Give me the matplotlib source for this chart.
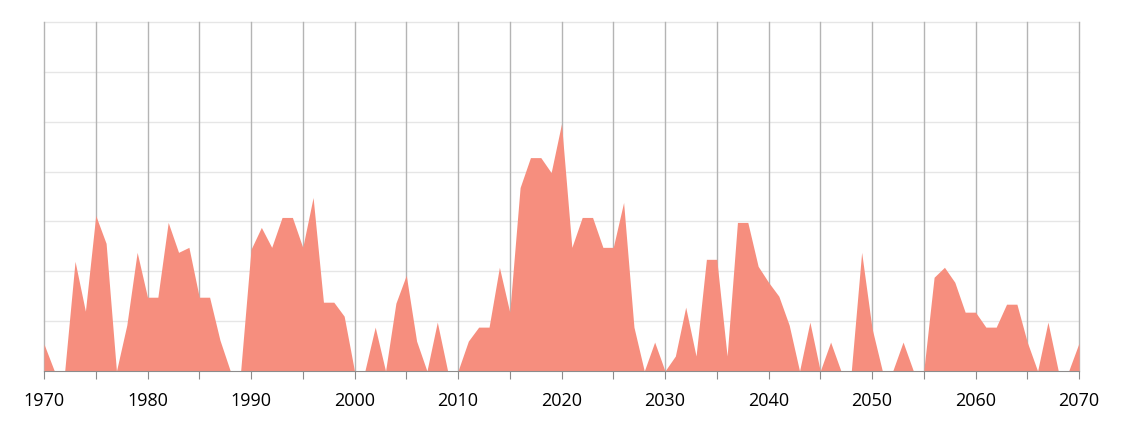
import numpy as np
import matplotlib.pyplot as plt

# yearly values, 1970-2070
years = np.arange(1970, 2071)
values = [
    2.7, 0, 0, 11, 6, 15.6, 12.8, 0, 4.6, 11.9,          # 1970s
    7.4, 7.4, 14.9, 11.9, 12.4, 7.4, 7.4, 3.1, 0, 0,     # 1980s
    12.2, 14.4, 12.4, 15.4, 15.4, 12.4, 17.4, 6.9, 6.9, 5.5,  # 1990s
    0, 0, 4.4, 0, 6.8, 9.6, 3.0, 0, 4.9, 0,              # 2000s
    0, 3.0, 4.4, 4.4, 10.4, 5.9, 18.4, 21.4, 21.4, 19.9, # 2010s
    24.8, 12.4, 15.4, 15.4, 12.4, 12.4, 16.9, 4.4, 0, 2.9,  # 2020s
    0, 1.5, 6.4, 1.5, 11.2, 11.2, 1.5, 14.9, 14.9, 10.5, # 2030s
    8.9, 7.5, 4.6, 0, 4.9, 0, 2.9, 0, 0, 11.9,           # 2040s
    4.3, 0, 0, 2.9, 0, 0, 9.4, 10.4, 8.9, 5.9,           # 2050s
    5.9, 4.4, 4.4, 6.7, 6.7, 2.9, 0, 4.9, 0, 0,          # 2060s
    2.8,                                                 # 2070
]
tick_years = list(range(1970, 2071, 10))

fig = plt.figure(figsize=(11.24, 4.23), dpi=100)
ax = fig.add_axes([44 / 1124, 52 / 423, 1035 / 1124, 349 / 423])

ax.fill_between(years, values, 0, color="#F68E7E", linewidth=0, zorder=2)

ax.set_xlim(1970, 2070)
ax.set_ylim(0, 35)

# horizontal grid (light)
for y in range(5, 36, 5):
    ax.axhline(y, color="#e6e6e6", linewidth=1, zorder=1, clip_on=False)
# vertical grid every 5 years (darker)
for x in range(1970, 2071, 5):
    ax.axvline(x, color="#b4b4b4", linewidth=1, zorder=1, clip_on=False)

ax.set_xticks(range(1970, 2071, 5))
ax.set_xticklabels([str(y) if y in tick_years else "" for y in range(1970, 2071, 5)],
                   fontfamily="Open Sans", fontsize=13)
ax.tick_params(axis="x", length=6, color="#8c8c8c", pad=9)
ax.set_yticks([])

for s in ["top", "left", "right"]:
    ax.spines[s].set_visible(False)
ax.spines["bottom"].set_color("#8c8c8c")
ax.spines["bottom"].set_zorder(3)

fig.savefig("out.png", dpi=100)
plt.close()
